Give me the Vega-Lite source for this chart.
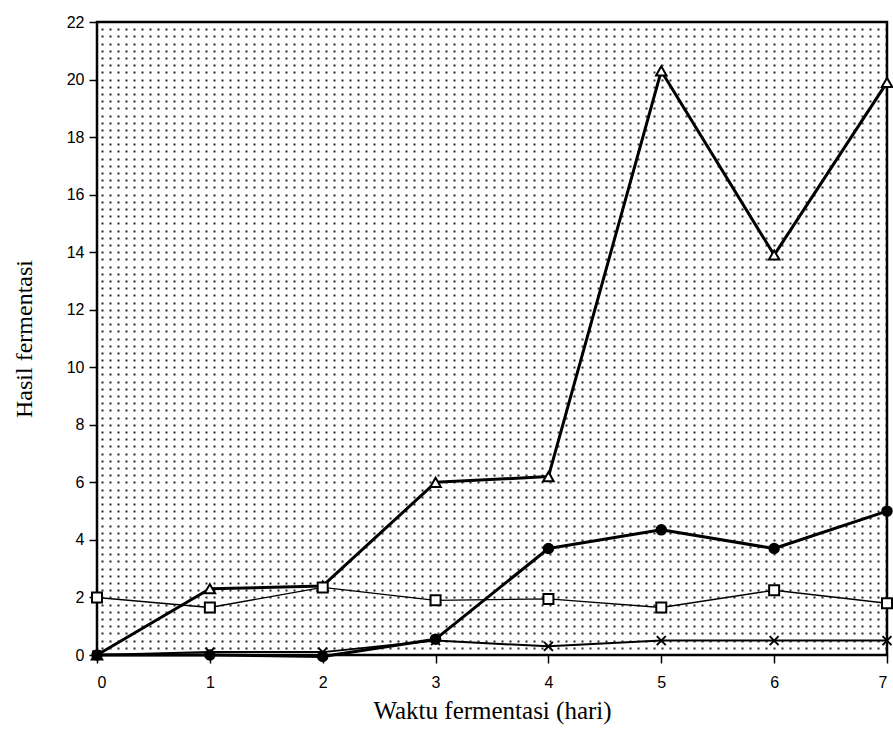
{
  "$schema": "https://vega.github.io/schema/vega-lite/v6.json",
  "width": 790,
  "height": 633,
  "autosize": {"type": "none"},
  "padding": {"left": 97, "top": 22, "right": 6, "bottom": 79},
  "background": "white",
  "config": {"view": {"stroke": "black", "strokeWidth": 2.5}},
  "data": {"values": [
    {"day": 0, "series": "A", "value": 0},
    {"day": 1, "series": "A", "value": 2.3},
    {"day": 2, "series": "A", "value": 2.4},
    {"day": 3, "series": "A", "value": 6.0},
    {"day": 4, "series": "A", "value": 6.2},
    {"day": 5, "series": "A", "value": 20.3},
    {"day": 6, "series": "A", "value": 13.9},
    {"day": 7, "series": "A", "value": 19.9},
    {"day": 0, "series": "B", "value": 2.0},
    {"day": 1, "series": "B", "value": 1.65},
    {"day": 2, "series": "B", "value": 2.35},
    {"day": 3, "series": "B", "value": 1.9},
    {"day": 4, "series": "B", "value": 1.95},
    {"day": 5, "series": "B", "value": 1.65},
    {"day": 6, "series": "B", "value": 2.25},
    {"day": 7, "series": "B", "value": 1.8},
    {"day": 0, "series": "C", "value": 0},
    {"day": 1, "series": "C", "value": 0},
    {"day": 2, "series": "C", "value": -0.05},
    {"day": 3, "series": "C", "value": 0.55},
    {"day": 4, "series": "C", "value": 3.7},
    {"day": 5, "series": "C", "value": 4.35},
    {"day": 6, "series": "C", "value": 3.7},
    {"day": 7, "series": "C", "value": 5.0},
    {"day": 0, "series": "D", "value": 0},
    {"day": 1, "series": "D", "value": 0.1},
    {"day": 2, "series": "D", "value": 0.1},
    {"day": 3, "series": "D", "value": 0.5},
    {"day": 4, "series": "D", "value": 0.3},
    {"day": 5, "series": "D", "value": 0.5},
    {"day": 6, "series": "D", "value": 0.5},
    {"day": 7, "series": "D", "value": 0.5}
  ]},
  "resolve": {"axis": {"x": "independent", "y": "independent"}},
  "layer": [
    {
      "mark": {"type": "point", "opacity": 0},
      "encoding": {
        "x": {"field": "day", "type": "quantitative", "scale": {"domain": [0, 7], "nice": false}, "axis": null},
        "y": {"field": "value", "type": "quantitative", "scale": {"domain": [0, 22], "nice": false},
          "axis": {"orient": "right", "title": null, "labels": false, "ticks": false, "domain": false, "grid": true,
            "gridColor": "black", "gridWidth": 2, "gridDash": [2, 6], "gridOpacity": 0.85,
            "values": [0.25,0.5,0.75,1,1.25,1.5,1.75,2,2.25,2.5,2.75,3,3.25,3.5,3.75,4,4.25,4.5,4.75,5,5.25,5.5,5.75,6,
              6.25,6.5,6.75,7,7.25,7.5,7.75,8,8.25,8.5,8.75,9,9.25,9.5,9.75,10,10.25,10.5,10.75,11,11.25,11.5,11.75,12,
              12.25,12.5,12.75,13,13.25,13.5,13.75,14,14.25,14.5,14.75,15,15.25,15.5,15.75,16,16.25,16.5,16.75,17,
              17.25,17.5,17.75,18,18.25,18.5,18.75,19,19.25,19.5,19.75,20,20.25,20.5,20.75,21,21.25,21.5,21.75]}}
      }
    },
    {
      "transform": [{"filter": "datum.series === 'B'"}],
      "mark": {"type": "line", "color": "black", "strokeWidth": 1.4, "strokeJoin": "round"},
      "encoding": {
        "x": {"field": "day", "type": "quantitative", "scale": {"domain": [0, 7], "nice": false},
          "axis": {"orient": "bottom", "values": [0,1,2,3,4,5,6,7], "grid": false, "domain": false,
            "tickColor": "black", "tickSize": 8, "tickWidth": 1.5, "labelFont": "Liberation Sans", "labelFontSize": 16,
            "labelColor": "black", "labelPadding": 11,
            "title": "Waktu fermentasi (hari)", "titleFont": "Liberation Serif", "titleFontSize": 25,
            "titleFontWeight": "normal", "titleColor": "black", "titlePadding": 8}},
        "y": {"field": "value", "type": "quantitative", "scale": {"domain": [0, 22], "nice": false},
          "axis": {"orient": "left", "values": [0,2,4,6,8,10,12,14,16,18,20,22], "grid": false, "domain": false,
            "tickColor": "black", "tickSize": 8, "tickWidth": 1.5, "labelFont": "Liberation Sans", "labelFontSize": 16,
            "labelColor": "black", "labelPadding": 5,
            "title": "Hasil fermentasi", "titleFont": "Liberation Serif", "titleFontSize": 24,
            "titleFontWeight": "normal", "titleColor": "black", "titlePadding": 30}}
      }
    },
    {
      "transform": [{"filter": "datum.series === 'D'"}],
      "mark": {"type": "line", "color": "black", "strokeWidth": 2, "strokeJoin": "round"},
      "encoding": {
        "x": {"field": "day", "type": "quantitative", "axis": null},
        "y": {"field": "value", "type": "quantitative", "axis": null}
      }
    },
    {
      "transform": [{"filter": "datum.series === 'A' || datum.series === 'C'"}],
      "mark": {"type": "line", "color": "black", "strokeWidth": 3, "strokeJoin": "round"},
      "encoding": {
        "x": {"field": "day", "type": "quantitative", "axis": null},
        "y": {"field": "value", "type": "quantitative", "axis": null},
        "detail": {"field": "series"}
      }
    },
    {
      "mark": {"type": "point", "filled": true, "stroke": "black", "strokeWidth": 2, "opacity": 1, "clip": false},
      "encoding": {
        "x": {"field": "day", "type": "quantitative", "axis": null},
        "y": {"field": "value", "type": "quantitative", "axis": null},
        "shape": {"field": "series", "type": "nominal", "scale": {"domain": ["A","B","C","D"],
          "range": ["triangle-up", "square", "circle", "M-1,-1L1,1M-1,1L1,-1"]}, "legend": null},
        "fill": {"field": "series", "type": "nominal", "scale": {"domain": ["A","B","C","D"],
          "range": ["white", "white", "black", "white"]}, "legend": null},
        "size": {"field": "series", "type": "nominal", "scale": {"domain": ["A","B","C","D"],
          "range": [110, 80, 120, 140]}, "legend": null}
      }
    }
  ]
}
